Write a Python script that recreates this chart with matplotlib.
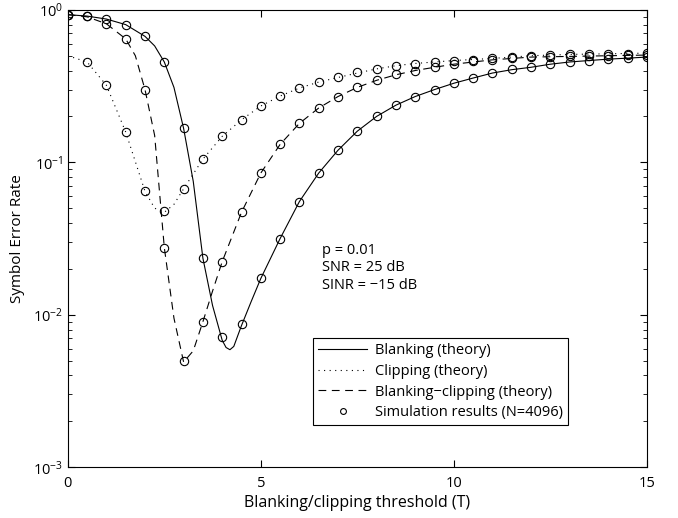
import matplotlib
matplotlib.use('Agg')
import matplotlib.pyplot as plt
import numpy as np

plt.rcParams['font.family'] = ['Open Sans', 'DejaVu Sans']
plt.rcParams['mathtext.fontset'] = 'custom'
plt.rcParams['mathtext.rm'] = 'Open Sans'
plt.rcParams['mathtext.it'] = 'Open Sans:italic'

# simulation points (every 0.5)
t_sim = np.arange(0, 15.5, 0.5)
sim_blank = [0.92, 0.91, 0.87, 0.80, 0.67, 0.455, 0.167, 0.0235, 0.0071, 0.0087,
             0.0173, 0.0316, 0.0553, 0.085, 0.12, 0.16, 0.20, 0.237, 0.27, 0.30,
             0.33, 0.357, 0.385, 0.41, 0.42, 0.44, 0.455, 0.46, 0.476, 0.48, 0.49]
sim_clip = [0.92, 0.455, 0.32, 0.158, 0.0645, 0.048, 0.067, 0.105, 0.148, 0.19,
            0.234, 0.272, 0.307, 0.336, 0.36, 0.39, 0.41, 0.43, 0.44, 0.455,
            0.46, 0.47, 0.48, 0.49, 0.50, 0.505, 0.51, 0.51, 0.515, 0.515, 0.52]
sim_bc = [0.92, 0.91, 0.81, 0.645, 0.30, 0.0276, 0.005, 0.009, 0.0223, 0.047,
          0.085, 0.131, 0.18, 0.227, 0.27, 0.31, 0.345, 0.38, 0.40, 0.42,
          0.44, 0.46, 0.47, 0.48, 0.49, 0.49, 0.495, 0.50, 0.50, 0.505, 0.505]

# theory curves (finer near the dips)
t_blank = [0, 0.5, 1, 1.5, 2, 2.25, 2.5, 2.75, 3, 3.25, 3.5, 3.75, 4, 4.1, 4.2, 4.3,
           4.5, 4.75, 5, 5.5, 6, 6.5, 7, 7.5, 8, 8.5, 9, 9.5, 10, 10.5, 11, 11.5,
           12, 12.5, 13, 13.5, 14, 14.5, 15]
th_blank = [0.93, 0.91, 0.87, 0.80, 0.67, 0.58, 0.455, 0.31, 0.167, 0.075, 0.0235,
            0.0115, 0.0068, 0.0061, 0.0059, 0.0062, 0.0085, 0.0122, 0.0173, 0.0316,
            0.0553, 0.085, 0.12, 0.16, 0.20, 0.237, 0.27, 0.30, 0.33, 0.357, 0.385,
            0.405, 0.42, 0.44, 0.455, 0.465, 0.475, 0.482, 0.49]
t_clip = [0, 0.5, 1, 1.5, 2, 2.25, 2.5, 2.75, 3, 3.5, 4, 4.5, 5, 5.5, 6, 6.5, 7,
          7.5, 8, 8.5, 9, 9.5, 10, 11, 12, 13, 14, 15]
th_clip = [0.50, 0.455, 0.32, 0.158, 0.0645, 0.05, 0.047, 0.053, 0.067, 0.105,
           0.148, 0.19, 0.234, 0.272, 0.307, 0.336, 0.36, 0.385, 0.41, 0.43, 0.445,
           0.455, 0.465, 0.48, 0.50, 0.51, 0.515, 0.52]
t_bc = [0, 0.5, 1, 1.5, 1.75, 2, 2.25, 2.5, 2.75, 3, 3.25, 3.5, 3.75, 4, 4.5, 5,
        5.5, 6, 6.5, 7, 7.5, 8, 8.5, 9, 9.5, 10, 11, 12, 13, 14, 15]
th_bc = [0.93, 0.90, 0.81, 0.645, 0.50, 0.30, 0.15, 0.0276, 0.0095, 0.0049, 0.0058,
         0.009, 0.0143, 0.0223, 0.047, 0.085, 0.131, 0.18, 0.227, 0.27, 0.31,
         0.345, 0.375, 0.40, 0.42, 0.44, 0.47, 0.49, 0.495, 0.50, 0.505]

fig = plt.figure(figsize=(6.78, 5.18), dpi=100)
ax = fig.add_axes([0.100, 0.098, 0.854, 0.883])

lw = 0.8
ax.semilogy(t_blank, th_blank, color='k', lw=lw, label='Blanking (theory)')
ax.semilogy(t_clip, th_clip, color='k', lw=lw, linestyle=(0, (1, 4)),
            label='Clipping (theory)')
ax.semilogy(t_bc, th_bc, color='k', lw=lw, linestyle=(0, (7, 5)),
            label='Blanking\u2212clipping (theory)')
mk = dict(marker='o', ms=6, mfc='none', mec='k', mew=0.8, linestyle='none')
ax.semilogy(t_sim, sim_blank, label='Simulation results (N=4096)', **mk)
ax.semilogy(t_sim, sim_clip, **mk)
ax.semilogy(t_sim, sim_bc, **mk)

ax.set_xlim(0, 15)
ax.set_ylim(1e-3, 1)
ax.set_xticks([0, 5, 10, 15])
ax.tick_params(which='both', direction='in', top=True, right=True, labelsize=10.5)
ax.tick_params(axis='x', pad=6)
ax.tick_params(which='major', length=5)
ax.tick_params(which='minor', length=3)
for s in ax.spines.values():
    s.set_linewidth(0.8)

ax.set_xlabel('Blanking/clipping threshold (T)', fontsize=11.5, labelpad=3)
ax.set_ylabel('Symbol Error Rate', fontsize=11, labelpad=6)

ax.text(0.439, 0.49, 'p = 0.01\nSNR = 25 dB\nSINR = \u221215 dB', transform=ax.transAxes,
        fontsize=10.5, va='top', ha='left', linespacing=1.2)

leg = ax.legend(loc='lower left', bbox_to_anchor=(0.423, 0.092), fontsize=10.5,
                frameon=True, fancybox=False, edgecolor='k', framealpha=1,
                handlelength=3.4, borderpad=0.35, labelspacing=0.38,
                handletextpad=0.5, borderaxespad=0, markerscale=0.7)
leg.get_frame().set_linewidth(0.8)

fig.savefig('out.png', dpi=100)
